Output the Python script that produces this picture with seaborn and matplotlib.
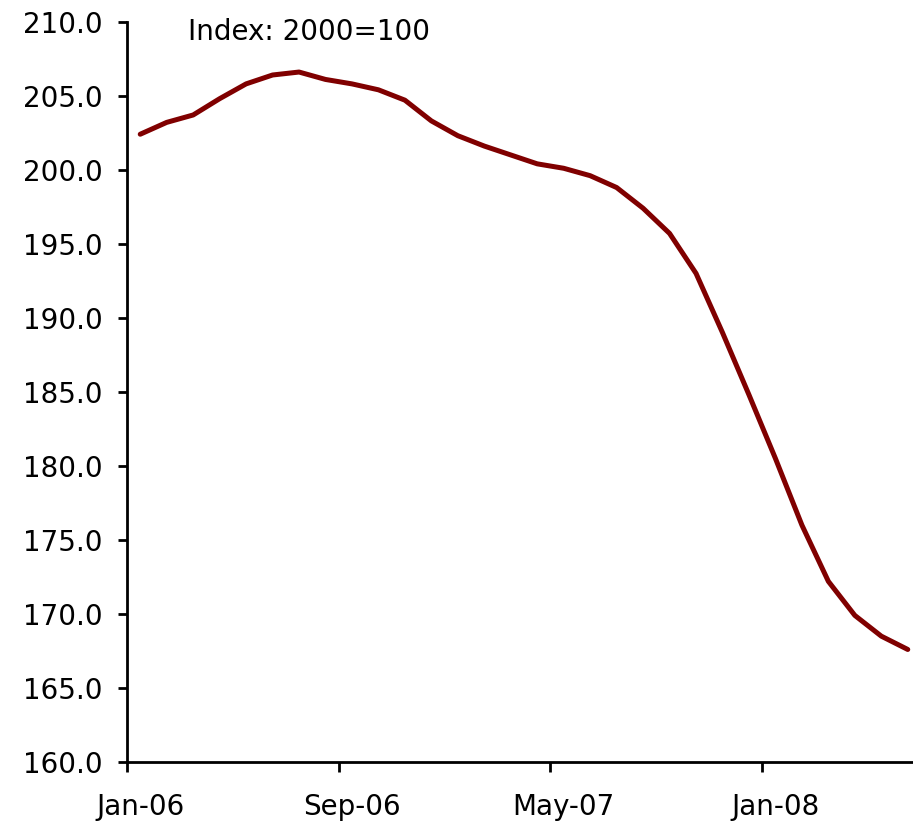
import numpy as np
import pandas as pd
import matplotlib
matplotlib.use("Agg")
import matplotlib.pyplot as plt
import seaborn as sns

# monthly index values, Jan-06 .. Jun-08
months = pd.date_range("2006-01-01", periods=30, freq="MS").strftime("%b-%y").tolist()
index_values = [
    202.4, 203.2, 203.7, 204.8, 205.8, 206.4, 206.6, 206.1, 205.8, 205.4,
    204.7, 203.3, 202.3, 201.6, 201.0, 200.4, 200.1, 199.6, 198.8, 197.4,
    195.7, 193.0, 189.0, 184.8, 180.5, 176.0, 172.2, 169.9, 168.5, 167.6,
]
label_every = 8
note_text = "Index: 2000=100"

sns.set_style("ticks")
plt.rcParams["font.family"] = ["DejaVu Sans"]
plt.rcParams["text.color"] = "black"
plt.rcParams["xtick.color"] = "black"
plt.rcParams["ytick.color"] = "black"

df = pd.DataFrame({"pos": np.arange(len(months)), "value": index_values})

W, H = 913, 824
fig = plt.figure(figsize=(W / 100, H / 100), dpi=100)
left, right, top, bottom = 127, 921, 21.7, 762
ax = fig.add_axes([left / W, (H - bottom) / H, (right - left) / W, (bottom - top) / H])

sns.lineplot(data=df, x="pos", y="value", ax=ax, color="#800000", linewidth=3.6)

ax.set_xlim(-0.5, len(months) - 0.5)
ax.set_ylim(160, 210)
ax.set_yticks(np.arange(160, 211, 5))
ax.set_yticklabels([f"{v:.1f}" for v in np.arange(160, 211, 5)])

# ticks at category boundaries, labels at category centres
major = np.arange(0, len(months), label_every) - 0.5
ax.set_xticks(major)
ax.set_xticklabels([])
ax.set_xticks(np.arange(0, len(months), label_every), minor=True)
ax.set_xticklabels(months[::label_every], minor=True)
ax.tick_params(axis="x", which="minor", length=0, pad=22, labelsize=20, labelcolor="black")
ax.tick_params(axis="x", which="major", length=7, width=2, direction="out", color="black")
ax.tick_params(axis="y", length=6.5, width=2, pad=11, labelsize=20, labelcolor="black", color="black")

ax.set_xlabel("")
ax.set_ylabel("")
for s in ["top", "right"]:
    ax.spines[s].set_visible(False)
for s in ["left", "bottom"]:
    ax.spines[s].set_linewidth(2)
    ax.spines[s].set_color("black")

fig.text(188 / W, 1 - 32 / H, note_text, fontsize=20, va="center", ha="left", color="black")

fig.savefig("out.png", dpi=100)
